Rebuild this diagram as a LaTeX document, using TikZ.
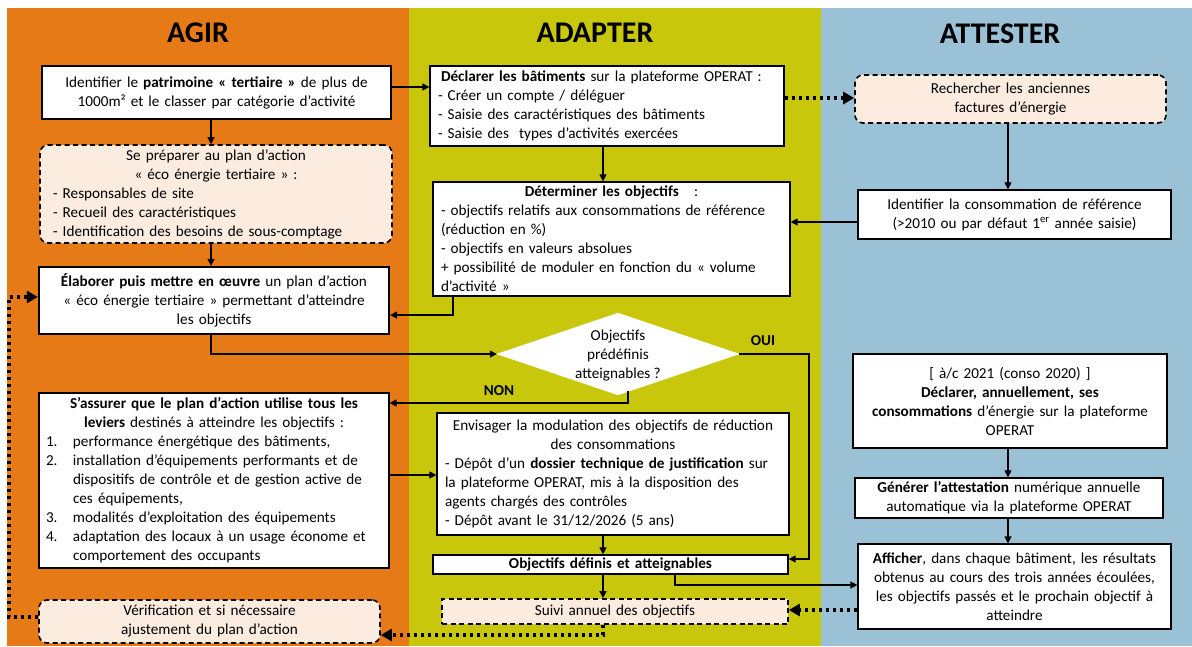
\documentclass[tikz,border=0pt]{standalone}
\usepackage{fontspec}
\setmainfont{Carlito}
\usetikzlibrary{arrows.meta,shapes.geometric,calc}
\definecolor{cOrange}{HTML}{E67A17}
\definecolor{cOlive}{HTML}{C8C70C}
\definecolor{cBlue}{HTML}{9BC1D6}
\definecolor{cPeach}{HTML}{FCECDF}
\setlength\parindent{0pt}
\newcommand\itm[2]{\makebox[27pt][l]{#1}#2}
\newcommand\cnt[1]{\hspace*{27pt}#1}
\begin{document}
\begin{tikzpicture}[x=1pt,y=-1pt,
  font=\fontsize{15.2}{19}\selectfont,
  box/.style={draw, fill=white, line width=1.2pt, inner sep=0pt},
  softbox/.style={draw, fill=cPeach, line width=1.6pt, dash pattern=on 5pt off 3.5pt, rounded corners=8pt, inner sep=0pt},
  title/.style={font=\fontsize{30}{36}\selectfont\bfseries},
  arr/.style={line width=1.3pt, -{Triangle[length=7pt,width=7pt]}},
  dotarr/.style={line width=3.5pt, dash pattern=on 3.5pt off 3.5pt, -{Triangle[length=11pt,width=12pt]}},
  lbl/.style={font=\fontsize{15.2}{17}\selectfont\bfseries}
]
\useasboundingbox (0,0) rectangle (1192,646);
\fill[white] (0,0) rectangle (1192,646);
\fill[cOrange] (7,8) rectangle (409,646);
\fill[cOlive] (409,8) rectangle (821,646);
\fill[cBlue] (821,8) rectangle (1192,646);

\node[title] (tagir) at (198,33) {AGIR};
\node[title] (tadapt) at (595,33) {ADAPTER};
\node[title] (tatt) at (1000,34) {ATTESTER};

% AGIR column
\node[box, minimum width=349pt, minimum height=53pt, text width=339pt] (idpat) at (216.5,92.5)
 {\centering Identifier le \textbf{patrimoine « tertiaire »} de plus de\\ 1000m² et le classer par catégorie d’activité\par};
\node[softbox, minimum width=352pt, minimum height=98pt, text width=326pt] (prep) at (216,194)
 {{\centering Se préparer au plan d’action\\ « éco énergie tertiaire » :\par}
  \raggedright - Responsables de site\\ - Recueil des caractéristiques\\ - Identification des besoins de sous-comptage\par};
\node[box, line width=2.2pt, minimum width=350pt, minimum height=67pt, text width=340pt] (elab) at (214,300.5)
 {\centering \textbf{Élaborer puis mettre en œuvre} un plan d’action\\ « éco énergie tertiaire » permettant d’atteindre\\ les objectifs\par};
\node[box, minimum width=350pt, minimum height=175pt, text width=336pt] (assur) at (214,480.5)
 {{\centering \textbf{S’assurer que le plan d’action utilise tous les}\\ \textbf{leviers} destinés à atteindre les objectifs :\par}
  \raggedright
  \itm{1.}{performance énergétique des bâtiments,}\\
  \itm{2.}{installation d’équipements performants et de}\\
  \cnt{dispositifs de contrôle et de gestion active de}\\
  \cnt{ces équipements,}\\
  \itm{3.}{modalités d’exploitation des équipements}\\
  \itm{4.}{adaptation des locaux à un usage économe et}\\
  \cnt{comportement des occupants}\par};
\node[softbox, minimum width=341pt, minimum height=43pt, text width=325pt] (verif) at (209.5,621.5)
 {\centering Vérification et si nécessaire\\ ajustement du plan d’action\par};

% ADAPTER column
\node[box, minimum width=354pt, minimum height=80pt, text width=338pt] (decl) at (607,106)
 {\raggedright \hspace*{3pt}\textbf{Déclarer les bâtiments} sur la plateforme OPERAT :\\ - Créer un compte / déléguer\\ - Saisie des caractéristiques des bâtiments\\ - Saisie des~ types d’activités exercées\par};
\node[box, minimum width=357pt, minimum height=114pt, text width=341pt] (deter) at (611.5,239)
 {{\centering \textbf{Déterminer les objectifs}~~ :\par}
  \raggedright - objectifs relatifs aux consommations de référence\\ (réduction en \%)\\ - objectifs en valeurs absolues\\ + possibilité de moduler en fonction du « volume\\ d’activité »\par};
\node[draw=white, fill=white, diamond, minimum width=242pt, minimum height=82pt, inner sep=0pt] (dia) at (618,354) {};
\node[inner sep=0pt, align=center, font=\fontsize{15.2}{19}\selectfont] (diatext) at (618,356) {Objectifs\\ prédéfinis\\ atteignables ?};
\node[box, minimum width=352pt, minimum height=122pt, text width=336pt] (envis) at (613,474)
 {{\centering Envisager la modulation des objectifs de réduction\\ des consommations\par}
  \raggedright - Dépôt d’un \textbf{dossier technique de justification} sur\\ la plateforme OPERAT, mis à la disposition des\\ agents chargés des contrôles\\ - Dépôt avant le 31/12/2026 (5 ans)\par};
\node[box, minimum width=355pt, minimum height=19pt, text width=345pt] (objdef) at (610.5,564.5)
 {\centering\textbf{Objectifs définis et atteignables}\par};
\node[softbox, rounded corners=0pt, minimum width=346pt, minimum height=25pt, text width=336pt] (suivi) at (615,611.5)
 {\centering Suivi annuel des objectifs\par};

% ATTESTER column
\node[softbox, minimum width=311pt, minimum height=48pt, text width=299pt] (rech) at (1010.5,99)
 {\centering Rechercher les anciennes\\ factures d’énergie\par};
\node[box, minimum width=313pt, minimum height=49pt, text width=305pt] (idcons) at (1014.5,214.5)
 {\centering Identifier la consommation de référence\\ (>2010 ou par défaut 1\textsuperscript{er} année saisie)\par};
\node[box, minimum width=314pt, minimum height=94pt, text width=306pt] (declan) at (1010,401)
 {\centering [ à/c 2021 (conso 2020) ]\\ \textbf{Déclarer, annuellement, ses}\\ \textbf{consommations} d’énergie sur la plateforme\\ OPERAT\par};
\node[box, minimum width=308pt, minimum height=40pt, text width=300pt] (gener) at (1009,498)
 {\centering \textbf{Générer l’attestation} numérique annuelle\\ automatique via la plateforme OPERAT\par};
\node[box, minimum width=313pt, minimum height=85pt, text width=305pt] (affich) at (1014.5,586.5)
 {\centering \textbf{Afficher}, dans chaque bâtiment, les résultats\\ obtenus au cours des trois années écoulées,\\ les objectifs passés et le prochain objectif à\\ atteindre\par};

% labels
\node[lbl] (oui) at (763,341) {OUI};
\node[lbl] (non) at (499,391) {NON};

% helper coordinates
\coordinate (y87) at (0,87);
\coordinate (y98) at (0,98);
\coordinate (x211) at (211,0);
\coordinate (x603) at (603,0);
\coordinate (x1008) at (1008,0);
\coordinate (y222) at (0,222);
\coordinate (x453) at (453,0);
\coordinate (y315) at (0,315);
\coordinate (y354) at (0,354);
\coordinate (cOui) at (809,354);
\coordinate (y559) at (0,559);
\coordinate (cNon) at (628,391);
\coordinate (y403) at (0,403);
\coordinate (y475) at (0,475);
\coordinate (x675) at (675,0);
\coordinate (y585) at (0,585);
\coordinate (y610) at (0,610);
\coordinate (y635) at (0,635);
\coordinate (y617) at (0,617);
\coordinate (y297) at (0,297);
\coordinate (xL) at (9,0);

% connectors
\draw[arr] (idpat.east |- y87) -- (decl.west |- y87);
\draw[arr] (idpat.south -| x211) -- (prep.north -| x211);
\draw[arr] (prep.south -| x211) -- (elab.north -| x211);
\draw[dotarr] (decl.east |- y98) -- (rech.west |- y98);
\draw[arr] (decl.south -| x603) -- (deter.north -| x603);
\draw[arr] (rech.south -| x1008) -- (idcons.north -| x1008);
\draw[arr] (idcons.west |- y222) -- (deter.east |- y222);
\draw[arr] (deter.south -| x453) -- (x453 |- y315) -- (elab.east |- y315);
\draw[arr] (elab.south -| x211) -- (x211 |- y354) -- (dia.west);
\draw[arr] (dia.east) -- (cOui) -- (cOui |- y559) -- (objdef.east |- y559);
\draw[arr] (cNon) -- (cNon |- y403) -- (assur.east |- y403);
\draw[arr] (assur.east |- y475) -- (envis.west |- y475);
\draw[arr] (envis.south -| x603) -- (objdef.north -| x603);
\draw[arr] (objdef.south -| x603) -- (suivi.north -| x603);
\draw[arr] (objdef.south -| x675) -- (x675 |- y585) -- (affich.west |- y585);
\draw[dotarr] (affich.west |- y610) -- (suivi.east |- y610);
\draw[dotarr] (suivi.south -| x603) -- (x603 |- y635) -- (verif.east |- y635);
\draw[dotarr] (verif.west |- y617) -- (xL |- y617) -- (xL |- y297) -- (elab.west |- y297);
\draw[arr] (declan.south -| x1008) -- (gener.north -| x1008);
\draw[arr] (gener.south -| x1008) -- (affich.north -| x1008);
\end{tikzpicture}
\end{document}
